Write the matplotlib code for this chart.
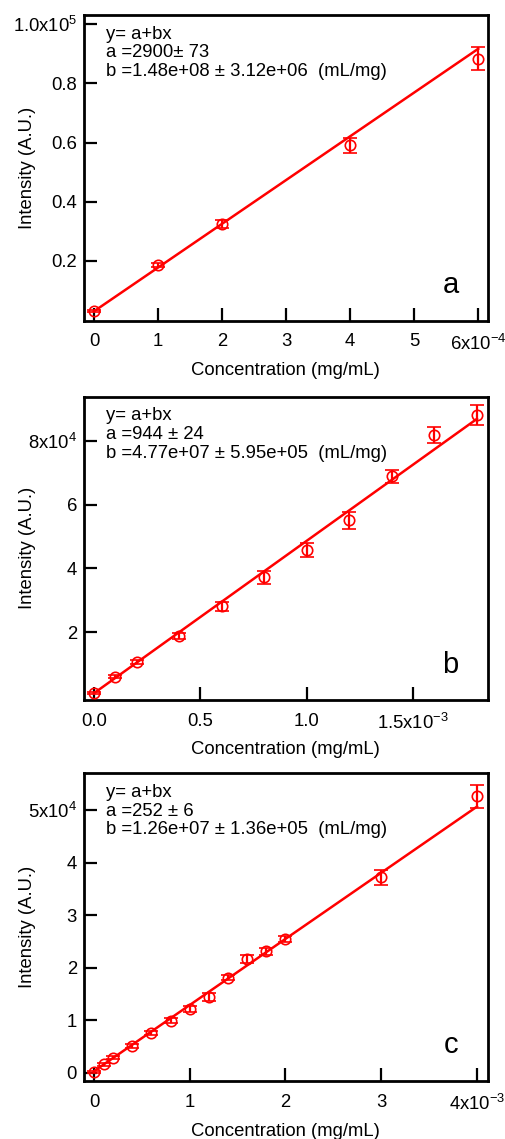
import numpy as np
import matplotlib
matplotlib.use("Agg")
import matplotlib.pyplot as plt

plt.rcParams['font.family'] = ['Liberation Sans', 'DejaVu Sans']
plt.rcParams['mathtext.fontset'] = 'custom'
plt.rcParams['mathtext.rm'] = 'Liberation Sans'
plt.rcParams['mathtext.it'] = 'Liberation Sans:italic'
plt.rcParams['mathtext.bf'] = 'Liberation Sans:bold'

# panel a
conc_a = [0, 1e-4, 2e-4, 4e-4, 6e-4]
int_a = [3000, 18650, 32500, 59000, 88400]
err_a = [300, 700, 1400, 2400, 4000]
fit_a = (2900, 1.48e8)
text_a = "y= a+bx\na =2900\u00b1 73\nb =1.48e+08 \u00b1 3.12e+06  (mL/mg)"
xticks_a = [0, 1e-4, 2e-4, 3e-4, 4e-4, 5e-4, 6e-4]
xlabels_a = ["0", "1", "2", "3", "4", "5", r"6x10$^{-4}$"]
yticks_a = [2e4, 4e4, 6e4, 8e4, 1e5]
ylabels_a = ["0.2", "0.4", "0.6", "0.8", r"1.0x10$^{5}$"]

# panel b
conc_b = [0, 0.1e-3, 0.2e-3, 0.4e-3, 0.6e-3, 0.8e-3, 1.0e-3, 1.2e-3, 1.4e-3, 1.6e-3, 1.8e-3]
int_b = [1100, 6100, 10600, 18900, 28200, 37200, 45700, 55100, 68800, 81900, 88100]
err_b = [300, 400, 600, 900, 1400, 2100, 2200, 2700, 2100, 2500, 3100]
fit_b = (944, 4.77e7)
text_b = "y= a+bx\na =944 \u00b1 24\nb =4.77e+07 \u00b1 5.95e+05  (mL/mg)"
xticks_b = [0, 0.5e-3, 1.0e-3, 1.5e-3]
xlabels_b = ["0.0", "0.5", "1.0", r"1.5x10$^{-3}$"]
yticks_b = [2e4, 4e4, 6e4, 8e4]
ylabels_b = ["2", "4", "6", r"8x10$^{4}$"]

# panel c
conc_c = [0, 0.1e-3, 0.2e-3, 0.4e-3, 0.6e-3, 0.8e-3, 1.0e-3, 1.2e-3, 1.4e-3,
          1.6e-3, 1.8e-3, 2.0e-3, 3.0e-3, 4.0e-3]
int_c = [150, 1600, 2800, 5000, 7500, 9900, 12100, 14400, 18100, 21600, 23100,
         25400, 37200, 52600]
err_c = [200, 300, 300, 400, 400, 500, 500, 700, 500, 700, 700, 600, 1400, 2200]
fit_c = (252, 1.26e7)
text_c = "y= a+bx\na =252 \u00b1 6\nb =1.26e+07 \u00b1 1.36e+05  (mL/mg)"
xticks_c = [0, 1e-3, 2e-3, 3e-3, 4e-3]
xlabels_c = ["0", "1", "2", "3", r"4x10$^{-3}$"]
yticks_c = [0, 1e4, 2e4, 3e4, 4e4, 5e4]
ylabels_c = ["0", "1", "2", "3", "4", r"5x10$^{4}$"]

panels = [
    (conc_a, int_a, err_a, fit_a, text_a, xticks_a, xlabels_a, yticks_a, ylabels_a,
     (-0.156e-4, 6.15e-4), (-370, 103170), "a", [0.166, 0.7182, 0.798, 0.2687]),
    (conc_b, int_b, err_b, fit_b, text_b, xticks_b, xlabels_b, yticks_b, ylabels_b,
     (-0.047e-3, 1.851e-3), (-1190, 93740), "b", [0.166, 0.3854, 0.798, 0.2663]),
    (conc_c, int_c, err_c, fit_c, text_c, xticks_c, xlabels_c, yticks_c, ylabels_c,
     (-0.104e-3, 4.113e-3), (-1620, 57050), "c", [0.166, 0.0509, 0.798, 0.2704]),
]

fs = 13.3

fig = plt.figure(figsize=(5.06, 11.39), dpi=100)

for (x, y, e, fit, txt, xt, xl, yt, yl, xlim, ylim, letter, rect) in panels:
    ax = fig.add_axes(rect)
    x = np.array(x)
    xs = np.array([0, x.max()])
    ax.plot(xs, fit[0] + fit[1] * xs, color='red', lw=1.8, zorder=2)
    ax.errorbar(x, y, yerr=e, fmt='o', color='red', mfc='none', mec='red',
                ms=7.5, mew=1.2, elinewidth=1.6, capsize=5, capthick=2, zorder=3)
    ax.set_xlim(*xlim)
    ax.set_ylim(*ylim)
    ax.set_xticks(xt)
    ax.set_xticklabels(xl)
    ax.set_yticks(yt)
    ax.set_yticklabels(yl)
    ax.tick_params(direction='in', length=9.5, width=1.6, labelsize=fs,
                   top=False, right=False)
    ax.tick_params(axis='x', pad=9)
    ax.tick_params(axis='y', pad=5)
    for sp in ax.spines.values():
        sp.set_linewidth(2)
    ax.set_xlabel("Concentration (mg/mL)", fontsize=fs)
    ax.set_ylabel("Intensity (A.U.)", fontsize=fs)
    ax.xaxis.set_label_coords(0.5, -0.135)
    ax.yaxis.set_label_coords(-0.118, 0.5)
    ax.text(0.0545, 0.965, txt, transform=ax.transAxes, ha='left', va='top',
            fontsize=fs, linespacing=1.14)
    ax.text(0.908, 0.117, letter, transform=ax.transAxes, ha='center', va='center',
            fontsize=21)

fig.savefig('out.png', dpi=100)
